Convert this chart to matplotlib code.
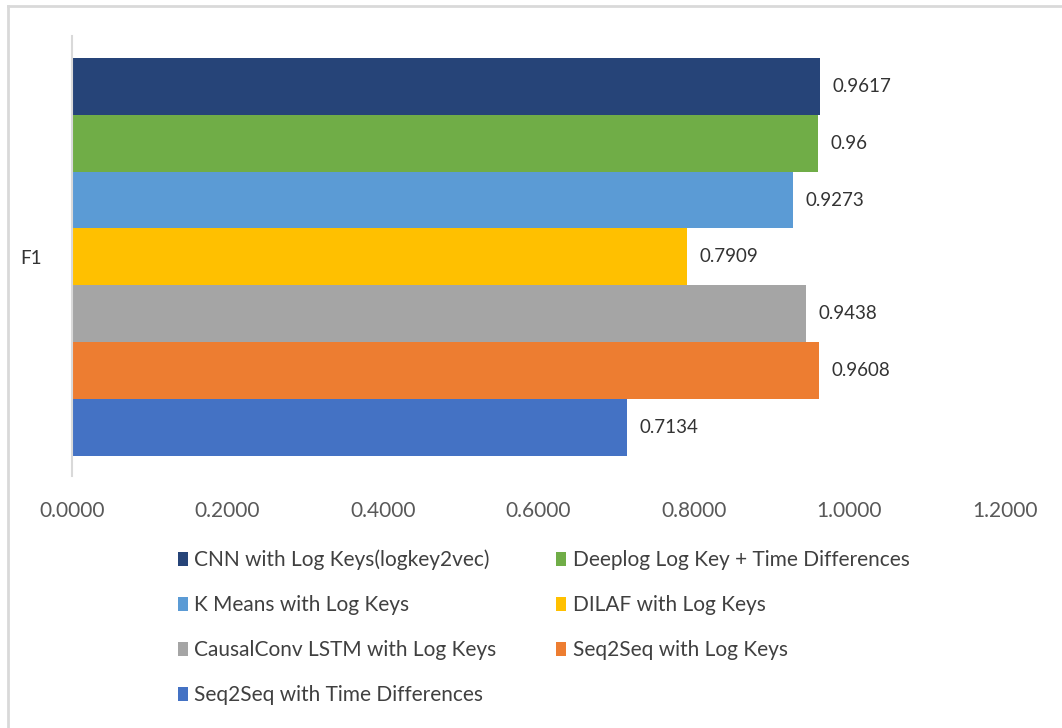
import matplotlib.pyplot as plt
from matplotlib.patches import Patch
from matplotlib.lines import Line2D

plt.rcParams['font.family'] = ['Lato', 'DejaVu Sans']

# F1 por modelo (de abajo hacia arriba en el gráfico)
models = [
    "Seq2Seq with Time Differences",
    "Seq2Seq with Log Keys",
    "CausalConv LSTM with Log Keys",
    "DILAF with Log Keys",
    "K Means with Log Keys",
    "Deeplog Log Key + Time Differences",
    "CNN with Log Keys(logkey2vec)",
]
f1 = [0.7134, 0.9608, 0.9438, 0.7909, 0.9273, 0.96, 0.9617]
labels = ["0.7134", "0.9608", "0.9438", "0.7909", "0.9273", "0.96", "0.9617"]
colors = ["#4472c4", "#ed7d31", "#a5a5a5", "#ffc000", "#5b9bd5", "#70ad47", "#264478"]
xticks = [0.0, 0.2, 0.4, 0.6, 0.8, 1.0, 1.2]

fig = plt.figure(figsize=(10.62, 7.28), dpi=100)
ax = fig.add_axes([72 / 1062, 1 - 476 / 728, (1005 - 72) / 1062, (476 - 36) / 728])

ypos = list(range(len(models)))
ax.barh(ypos, f1, height=1.0, color=colors)
for y, v, lab in zip(ypos, f1, labels):
    ax.text(v + 0.016, y, lab, va='center', ha='left', fontsize=13.5, color='#333333')

ax.set_xlim(0, 1.2)
ax.set_ylim(-0.5 - 0.36, 6.5 + 0.39)
ax.set_xticks(xticks)
ax.set_xticklabels([f"{t:.4f}" for t in xticks], fontsize=15, color='#595959')
ax.set_yticks([3])
ax.set_yticklabels(["F1"], fontsize=13.5, color='#333333')
ax.tick_params(axis='both', length=0)
ax.tick_params(axis='x', pad=18)
ax.tick_params(axis='y', pad=22)
for s in ['top', 'right', 'bottom']:
    ax.spines[s].set_visible(False)
ax.spines['left'].set_color('#d9d9d9')
ax.spines['left'].set_linewidth(1.5)

# leyenda en dos columnas (orden por filas)
handles = {m: Patch(facecolor=c) for m, c in zip(models, colors)}
order = [
    "CNN with Log Keys(logkey2vec)",
    "K Means with Log Keys",
    "CausalConv LSTM with Log Keys",
    "Seq2Seq with Time Differences",
    "Deeplog Log Key + Time Differences",
    "DILAF with Log Keys",
    "Seq2Seq with Log Keys",
]
fig.legend([handles[m] for m in order], order, ncol=2, frameon=False,
           loc='upper left', bbox_to_anchor=(159 / 1062, 1 - 531 / 728),
           fontsize=15, handlelength=0.5, handleheight=0.65, handletextpad=0.3,
           labelspacing=1.2, columnspacing=2.85, labelcolor='#404040')

# marco del gráfico
fig.add_artist(Line2D([8 / 1062, 1], [1 - 6 / 728, 1 - 6 / 728], color='#d9d9d9', lw=2))
fig.add_artist(Line2D([8 / 1062, 8 / 1062], [0, 1 - 6 / 728], color='#d9d9d9', lw=2))

fig.savefig("out.png", dpi=100)
